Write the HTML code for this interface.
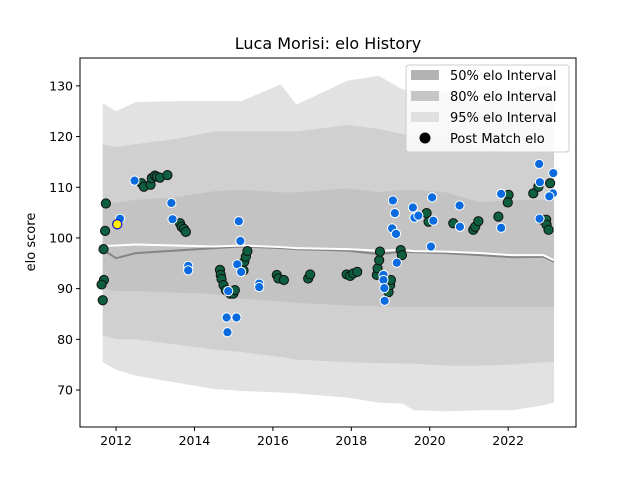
<!DOCTYPE html>
<html><head><meta charset="utf-8"><style>
body{margin:0;background:#fff;}
svg{display:block;font-family:"DejaVu Sans","Liberation Sans",sans-serif;}
</style></head><body>
<svg id="chart" width="640" height="480">
<text x="328" y="49" text-anchor="middle" font-size="16">Luca Morisi: elo History</text>
<text transform="translate(35,242) rotate(-90)" text-anchor="middle" font-size="13">elo score</text>
<g id="bands"></g>
<g id="lines"></g>
<g id="pts"></g>
<g id="axes"></g>
<g id="legend">
<rect x="406" y="65" width="163" height="87" rx="3" fill="#fff" fill-opacity="0.8" stroke="#ccc"/>
<rect x="411" y="70" width="28" height="10" fill="#b3b3b3"/>
<text x="450" y="80" font-size="13">50% elo Interval</text>
<rect x="411" y="91" width="28" height="10" fill="#c6c6c6"/>
<text x="450" y="101" font-size="13">80% elo Interval</text>
<rect x="411" y="112" width="28" height="10" fill="#e0e0e0"/>
<text x="450" y="122" font-size="13">95% elo Interval</text>
<circle cx="425" cy="138" r="5.5" fill="#000"/>
<text x="450" y="143" font-size="13">Post Match elo</text>
</g>
</svg>
<script>
const bandYears=[2011.66,2012.0,2012.5,2013.5,2014.5,2015.2,2016.2,2016.6,2017.9,2018.7,2019.3,2019.6,2020.4,2021.3,2022.1,2022.9,2023.17];
const hi95=[126.6,125,126.8,127,127,127,130.3,126.3,131,132,129.3,129,129,126.6,129,130,130];
const hi80=[118.4,118,118.5,119.5,121,121,121,121,122.3,121.5,120.5,120,120,117.5,117,117,117];
const hi50=[106.5,107,107.5,108,109.2,109.5,109,109,109.8,109,109.5,109.5,109,107,107.5,107.5,107.5];
const meanVals=[98.4,98.5,98.7,98.5,98.3,98.5,98.2,98.0,97.8,97.5,97.6,97.4,97.3,97.0,96.6,96.6,95.6];
const priorVals=[97.7,96,97,97.5,98,98.3,98,97.8,97.5,96.8,97.3,97.2,97,96.6,96.2,96.3,95.3];
const lo50=[90,89.5,89.5,89.2,89,88,87.5,87.2,86.7,86.5,86.4,86.4,86.4,86.4,86.4,86.4,86.4];
const lo80=[80.8,80,80,79,78,77.5,76.5,76,75.5,75.3,75.2,75.2,74.8,74.8,75,75.5,75.5];
const lo95=[75.5,74,72.8,71.5,70.2,69.8,69.5,69.3,68.5,67.5,67.3,66,65.8,66,66,67,67.5];
const greenYears=[2011.74,2011.72,2011.68,2011.69,2011.63,2011.66,2012.65,2012.71,2012.88,2012.91,2012.99,2013.04,2013.12,2013.31,2013.63,2013.67,2013.73,2013.78,2014.65,2014.67,2014.69,2014.74,2014.80,2014.91,2014.99,2015.03,2015.25,2015.27,2015.31,2015.35,2016.10,2016.14,2016.28,2016.90,2016.95,2017.88,2017.97,2018.05,2018.15,2018.65,2018.67,2018.71,2018.73,2018.95,2018.99,2019.01,2019.26,2019.29,2019.92,2019.97,2020.60,2021.11,2021.16,2021.24,2021.75,2022.01,2021.99,2022.64,2022.77,2023.07,2022.86,2022.97,2022.98,2023.03];
const greenVals=[106.8,101.4,97.8,91.7,90.8,87.7,110.8,110.1,110.5,111.8,112.3,112.1,111.9,112.4,102.9,102.2,101.8,101.2,93.7,92.7,91.9,90.7,89.7,89.0,89.0,89.7,93.6,95.3,96.3,97.4,92.7,92.0,91.7,92.0,92.8,92.8,92.5,93.0,93.3,92.7,94.0,95.6,97.3,89.3,90.7,91.7,97.6,96.6,104.9,103.2,102.9,101.6,102.2,103.3,104.2,108.5,107.0,108.8,110.1,110.8,103.6,103.6,102.6,101.6];
const blueYears=[2012.47,2012.10,2013.41,2013.44,2013.84,2013.84,2015.13,2015.17,2015.09,2015.19,2015.65,2015.65,2014.86,2014.82,2015.07,2014.84,2018.82,2018.82,2018.84,2018.85,2019.16,2019.06,2019.11,2019.04,2019.14,2019.57,2019.61,2019.71,2020.06,2020.09,2020.03,2020.76,2020.77,2021.82,2021.82,2022.79,2022.81,2023.15,2023.14,2023.05,2022.80];
const blueVals=[111.3,103.8,106.9,103.7,94.5,93.6,103.3,99.4,94.8,93.3,91.0,90.3,89.5,84.3,84.3,81.4,92.7,91.7,90.1,87.6,95.1,107.4,104.9,101.9,100.8,106.0,104.0,104.4,108.0,103.4,98.3,106.4,102.2,108.7,102.0,114.6,111.0,112.8,108.8,108.2,103.8];
const highlightYears=[2012.03];
const highlightVals=[102.7];
const xTicks=[2012,2014,2016,2018,2020,2022];
const yTicks=[70,80,90,100,110,120,130];

const L=80,R=576,T=58,B=427;
const X0=2011.08,X1=2023.73,Y0=62.7,Y1=135.5;
const sx=v=>L+(v-X0)/(X1-X0)*(R-L);
const sy=v=>B-(v-Y0)/(Y1-Y0)*(B-T);
const NS='http://www.w3.org/2000/svg';
function mk(tag,parent,attrs){const e=document.createElementNS(NS,tag);for(const k in attrs)e.setAttribute(k,attrs[k]);parent.appendChild(e);return e;}

const bands=document.getElementById('bands');
function band(hi,lo,color,name){
  let d=bandYears.map((y,i)=>(i?'L':'M')+sx(y)+','+sy(hi[i])).join(' ');
  for(let i=bandYears.length-1;i>=0;i--)d+=' L'+sx(bandYears[i])+','+sy(lo[i]);
  const p=mk('path',bands,{d:d+'Z',fill:color});
  
  
}
band(hi95,lo95,'#e2e2e2','band-95');
band(hi80,lo80,'#d0d0d0','band-80');
band(hi50,lo50,'#c3c3c3','band-50');

const lines=document.getElementById('lines');
function line(vals,color,w,name){
  const p=mk('path',lines,{d:bandYears.map((y,i)=>(i?'L':'M')+sx(y)+','+sy(vals[i])).join(' '),fill:'none',stroke:color,'stroke-width':w});
  
  
}
line(priorVals,'#858585',2,'prior-elo-line');
line(meanVals,'#ffffff',2,'mean-elo-line');

const pts=document.getElementById('pts');
greenYears.forEach((y,i)=>{
  const c=mk('circle',pts,{cx:sx(y),cy:sy(greenVals[i]),r:4.6,fill:'#0e5e40',stroke:'#111','stroke-width':1});
  
  
});
blueYears.forEach((y,i)=>{
  const c=mk('circle',pts,{cx:sx(y),cy:sy(blueVals[i]),r:4.6,fill:'#0a6be0',stroke:'#fff','stroke-width':1});
  
  
});
highlightYears.forEach((y,i)=>{
  const c=mk('circle',pts,{cx:sx(y),cy:sy(highlightVals[i]),r:4.6,fill:'#ffee00',stroke:'#1010d0','stroke-width':1.2});
  
  
});

const axes=document.getElementById('axes');
const frame=mk('rect',axes,{x:L,y:T,width:R-L,height:B-T,fill:'none',stroke:'#000','stroke-width':1});


xTicks.forEach(t=>{
  const x=sx(t);
  const tk=mk('line',axes,{x1:x,x2:x,y1:B,y2:B+4,stroke:'#000'});
  
  
  const tx=mk('text',axes,{x:x,y:B+18,'text-anchor':'middle','font-size':'12.5'});
  tx.textContent=t;
  
  
});
yTicks.forEach(t=>{
  const y=sy(t);
  const tk=mk('line',axes,{x1:L-4,x2:L,y1:y,y2:y,stroke:'#000'});
  
  
  const tx=mk('text',axes,{x:L-7,y:y+4.5,'text-anchor':'end','font-size':'12.5'});
  tx.textContent=t;
  
  
});
</script>
</body></html>
